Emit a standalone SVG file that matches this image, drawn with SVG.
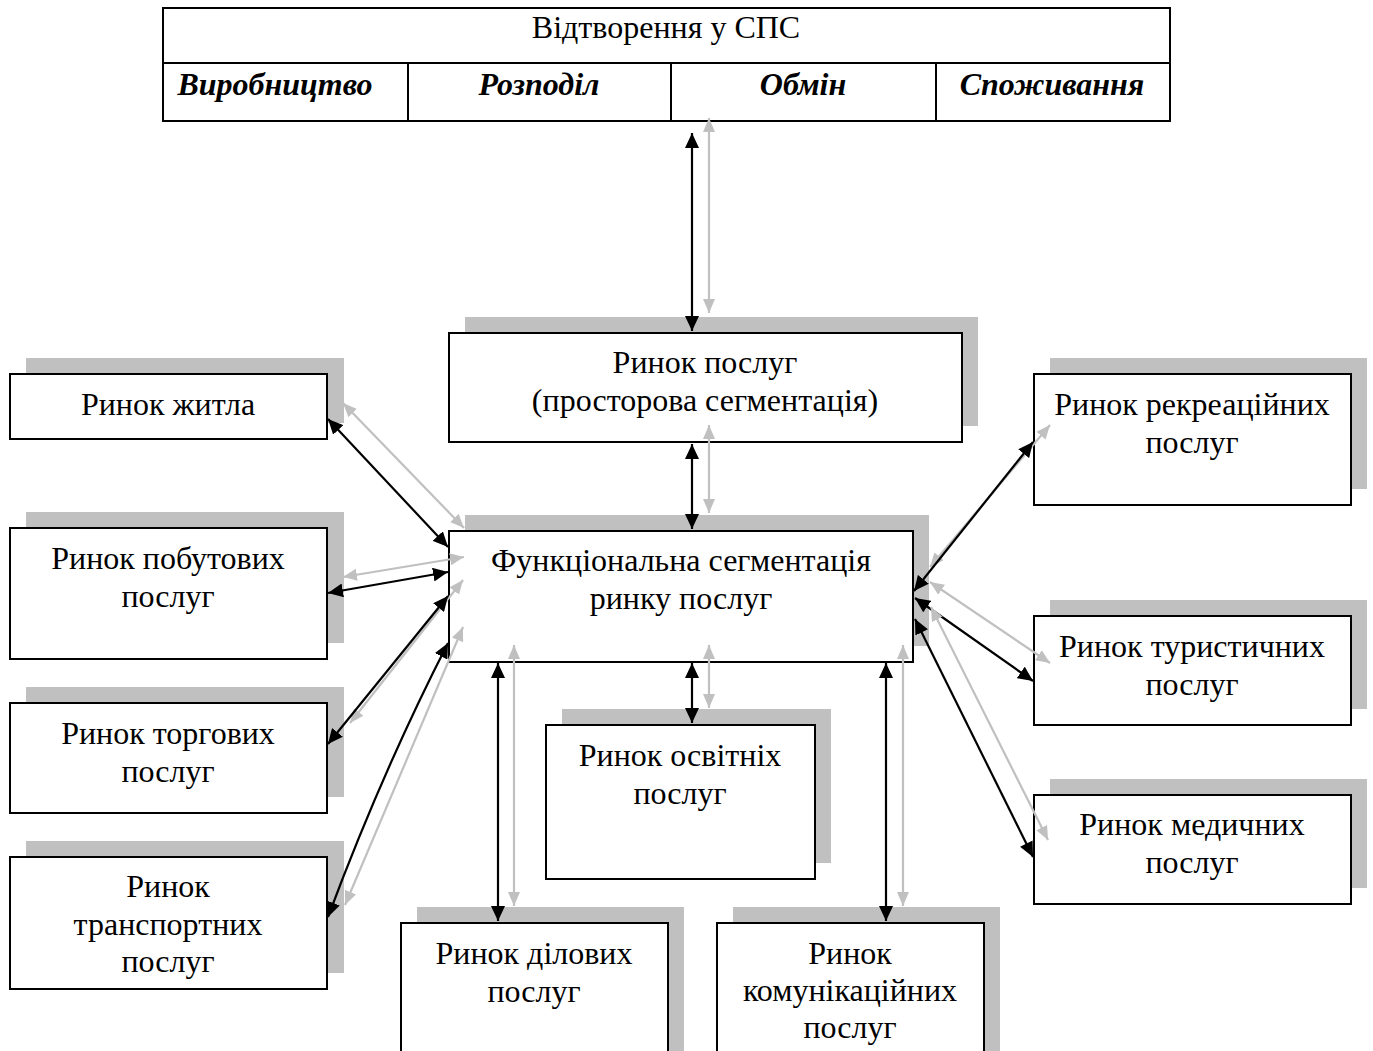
<svg xmlns="http://www.w3.org/2000/svg" width="1373" height="1051" viewBox="0 0 1373 1051">
<style>
.sh{fill:#c0c0c0;stroke:none}
.bx{fill:#fff;stroke:#000;stroke-width:2}
.t{font-family:"Liberation Serif","Times New Roman",serif;font-size:32px;fill:#000;text-anchor:middle}
.bi{font-weight:bold;font-style:italic}
.k{stroke:#000;stroke-width:2.2;fill:none;marker-start:url(#ak);marker-end:url(#ak)}
.g{stroke:#c0c0c0;stroke-width:2.2;fill:none;marker-start:url(#ag);marker-end:url(#ag)}
</style>
<defs>
<marker id="ak" markerUnits="userSpaceOnUse" markerWidth="16" markerHeight="14" refX="15" refY="7" orient="auto-start-reverse"><path d="M0,0 L15,7 L0,14 z" fill="#000"/></marker>
<marker id="ag" markerUnits="userSpaceOnUse" markerWidth="16" markerHeight="14" refX="14" refY="6" orient="auto-start-reverse"><path d="M0,0 L14,6 L0,12 z" fill="#c0c0c0"/></marker>
</defs>
<rect width="1373" height="1051" fill="#fff"/>

<g id="top">
<rect class="bx" x="163" y="8" width="1007" height="113"/>
<line x1="163" y1="63" x2="1170" y2="63" stroke="#000" stroke-width="2"/>
<line x1="408" y1="63" x2="408" y2="121" stroke="#000" stroke-width="2"/>
<line x1="671" y1="63" x2="671" y2="121" stroke="#000" stroke-width="2"/>
<line x1="936" y1="63" x2="936" y2="121" stroke="#000" stroke-width="2"/>
<text class="t" x="666" y="38">Відтворення у СПС</text>
<text class="t bi" x="275" y="95">Виробництво</text>
<text class="t bi" x="539" y="95">Розподіл</text>
<text class="t bi" x="803" y="95">Обмін</text>
<text class="t bi" x="1052" y="95">Споживання</text>
</g>

<g id="market">
<rect class="sh" x="465" y="317" width="513" height="109"/>
<rect class="bx" x="449" y="333" width="513" height="109"/>
<text class="t" x="705" y="373">Ринок послуг</text>
<text class="t" x="705" y="411">(просторова сегментація)</text>
</g>

<g id="func">
<rect class="sh" x="465" y="515" width="464" height="131"/>
<rect class="bx" x="449" y="531" width="464" height="131"/>
<text class="t" x="681" y="571">Функціональна сегментація</text>
<text class="t" x="681" y="609">ринку послуг</text>
</g>

<g id="housing">
<rect class="sh" x="26" y="358" width="318" height="65"/>
<rect class="bx" x="10" y="374" width="317" height="65"/>
<text class="t" x="168" y="415">Ринок житла</text>
</g>

<g id="household">
<rect class="sh" x="26" y="512" width="318" height="131"/>
<rect class="bx" x="10" y="528" width="317" height="131"/>
<text class="t" x="168" y="569">Ринок побутових</text>
<text class="t" x="168" y="607">послуг</text>
</g>

<g id="trade">
<rect class="sh" x="26" y="687" width="318" height="110"/>
<rect class="bx" x="10" y="703" width="317" height="110"/>
<text class="t" x="168" y="744">Ринок торгових</text>
<text class="t" x="168" y="782">послуг</text>
</g>

<g id="transport">
<rect class="sh" x="26" y="841" width="318" height="132"/>
<rect class="bx" x="10" y="857" width="317" height="132"/>
<text class="t" x="168" y="897">Ринок</text>
<text class="t" x="168" y="935">транспортних</text>
<text class="t" x="168" y="972">послуг</text>
</g>

<g id="education">
<rect class="sh" x="562" y="709" width="269" height="154"/>
<rect class="bx" x="546" y="725" width="269" height="154"/>
<text class="t" x="680" y="766">Ринок освітніх</text>
<text class="t" x="680" y="804">послуг</text>
</g>

<g id="business">
<rect class="sh" x="417" y="907" width="267" height="150"/>
<rect class="bx" x="401" y="923" width="267" height="140"/>
<text class="t" x="534" y="964">Ринок ділових</text>
<text class="t" x="534" y="1002">послуг</text>
</g>

<g id="communication">
<rect class="sh" x="733" y="907" width="267" height="150"/>
<rect class="bx" x="717" y="923" width="267" height="140"/>
<text class="t" x="850" y="964">Ринок</text>
<text class="t" x="850" y="1001">комунікаційних</text>
<text class="t" x="850" y="1038">послуг</text>
</g>

<g id="recreation">
<rect class="sh" x="1050" y="358" width="317" height="131"/>
<rect class="bx" x="1034" y="374" width="317" height="131"/>
<text class="t" x="1192" y="415">Ринок рекреаційних</text>
<text class="t" x="1192" y="453">послуг</text>
</g>

<g id="tourism">
<rect class="sh" x="1050" y="600" width="317" height="109"/>
<rect class="bx" x="1034" y="616" width="317" height="109"/>
<text class="t" x="1192" y="657">Ринок туристичних</text>
<text class="t" x="1192" y="695">послуг</text>
</g>

<g id="medical">
<rect class="sh" x="1050" y="779" width="317" height="109"/>
<rect class="bx" x="1034" y="795" width="317" height="109"/>
<text class="t" x="1192" y="835">Ринок медичних</text>
<text class="t" x="1192" y="873">послуг</text>
</g>

<g id="connectors">
<line class="g" x1="709" y1="118" x2="709" y2="313"/>
<line class="k" x1="692" y1="133" x2="692" y2="331"/>
<line class="g" x1="709" y1="425" x2="709" y2="513"/>
<line class="k" x1="692" y1="444" x2="692" y2="529"/>
<line class="g" x1="709" y1="645" x2="709" y2="708"/>
<line class="k" x1="692" y1="663" x2="692" y2="723"/>
<line class="g" x1="514" y1="645" x2="514" y2="906"/>
<line class="k" x1="498" y1="663" x2="498" y2="921"/>
<line class="g" x1="903" y1="645" x2="903" y2="906"/>
<line class="k" x1="886" y1="663" x2="886" y2="921"/>

<line class="g" x1="343" y1="403" x2="464" y2="528"/>
<line class="k" x1="328" y1="419" x2="448" y2="547"/>
<line class="g" x1="343" y1="577" x2="464" y2="557"/>
<line class="k" x1="328" y1="593" x2="448" y2="572"/>
<line class="g" x1="463" y1="580" x2="350" y2="723"/>
<line class="k" x1="448" y1="596" x2="328" y2="744"/>
<line class="g" x1="463" y1="627" x2="345" y2="905"/>
<path class="k" d="M448,643 Q382,772 328,917"/>

<line class="g" x1="930" y1="567" x2="1050" y2="425"/>
<line class="k" x1="914" y1="591" x2="1033" y2="442"/>
<line class="g" x1="930" y1="582" x2="1050" y2="663"/>
<line class="k" x1="915" y1="598" x2="1033" y2="681"/>
<line class="g" x1="931" y1="607" x2="1048" y2="840"/>
<line class="k" x1="915" y1="619" x2="1033" y2="857"/>
</g>
</svg>
